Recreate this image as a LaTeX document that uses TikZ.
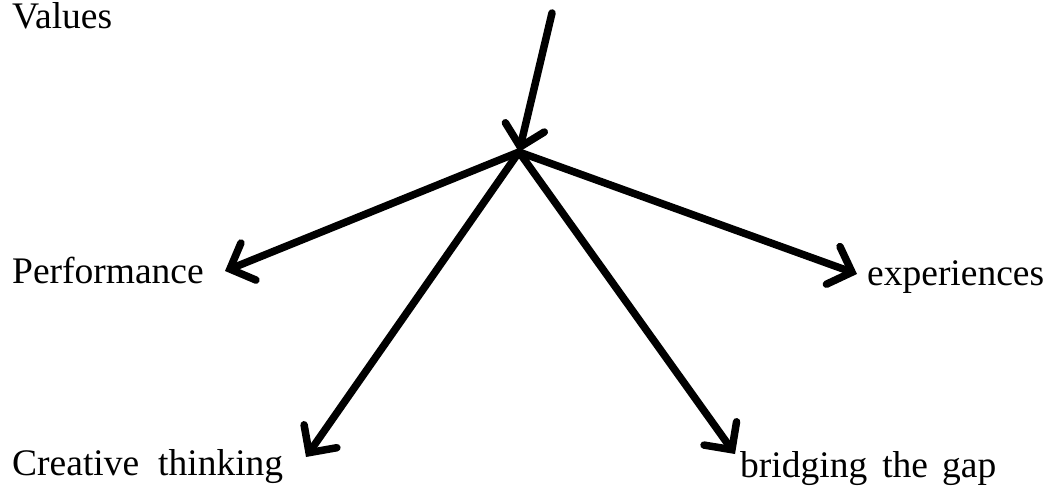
\documentclass[tikz,border=0pt]{standalone}
\usepackage{fontspec}
\setmainfont{Liberation Serif}
\usetikzlibrary{arrows.meta}
\begin{document}
\begin{tikzpicture}[x=1pt,y=-1pt,
  lbl/.style={anchor=base west,inner sep=0pt,font=\fontsize{37.5}{42}\selectfont},
  arr/.style={line width=7.5pt,line cap=round,-{Straight Barb[length=20pt,width=40pt,line width=7.5pt,line cap=round]}}]
\useasboundingbox (0,0) rectangle (1045,488);
\node[lbl] (values) at (12,28) {Values};
\node[lbl] (perf) at (12,283) {Performance};
\node[lbl] (exp) at (867,285) {experiences};
\node[lbl] (creat) at (12,475) {Creative\hspace{19pt}thinking};
\node[lbl] (bridge) at (740,477) {bridging\hspace{15pt}the\hspace{14pt}gap};
\coordinate (top) at (552,13);
\coordinate (hub) at (519,152);
\coordinate (tperf) at (225,271);
\coordinate (texp) at (857,274);
\coordinate (tcreat) at (306,457);
\coordinate (tbridge) at (735,454);
\draw[arr] (top) -- (hub);
\draw[arr] (hub) -- (tperf);
\draw[arr] (hub) -- (texp);
\draw[arr] (hub) -- (tcreat);
\draw[arr] (hub) -- (tbridge);
\end{tikzpicture}
\end{document}
